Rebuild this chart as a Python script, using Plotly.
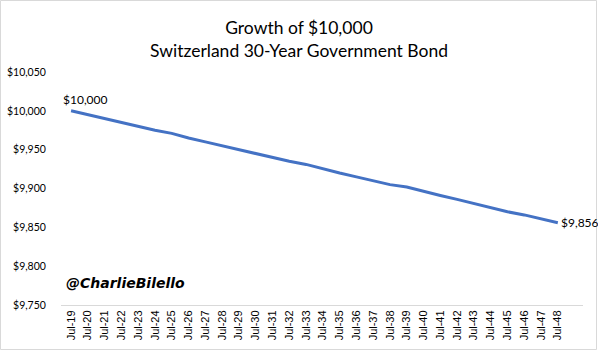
import plotly.graph_objects as go

years = list(range(19, 49))
tick_labels = [f"Jul-{y}" for y in years]
values = [10000, 9995, 9990, 9985, 9980, 9975, 9971, 9965, 9960, 9955,
          9950, 9945, 9940, 9935, 9931, 9925, 9920, 9915, 9910, 9905,
          9902, 9896, 9891, 9886, 9881, 9876, 9870, 9866, 9861, 9856]
x_idx = list(range(len(values)))

W, H = 598, 351
L, R, T, B = 61, 15, 72, 46
pw, ph = W - L - R, H - T - B

fig = go.Figure()
fig.add_trace(go.Scatter(x=x_idx, y=values, mode="lines",
                         line=dict(color="#4472C4", width=3), hoverinfo="skip"))

fig.add_annotation(x=x_idx[0], y=values[0], text="$" + f"{values[0]:,}",
                   showarrow=False, xanchor="left", yanchor="bottom", xshift=-10, yshift=2,
                   font=dict(family="Lato", size=12, color="#000000"))
fig.add_annotation(x=x_idx[-1], y=values[-1], text="$" + f"{values[-1]:,}",
                   showarrow=False, xanchor="left", yanchor="middle", xshift=1,
                   font=dict(family="Lato", size=12, color="#000000"))
fig.add_annotation(x=(64 - L) / pw, y=(H - B - 283) / ph, xref="paper", yref="paper",
                   text="<b><i>@CharlieBilello</i></b>", showarrow=False,
                   xanchor="left", yanchor="middle",
                   font=dict(family="DejaVu Sans", size=14, color="#000000"))

fig.add_shape(type="rect", xref="paper", yref="paper",
              x0=(0.5 - L) / pw, x1=(596.5 - L) / pw,
              y0=(H - B - 349.5) / ph, y1=(H - B - 0.5) / ph,
              line=dict(color="#D9D9D9", width=1), fillcolor="rgba(0,0,0,0)", layer="below")

fig.update_layout(
    width=W, height=H,
    margin=dict(l=L, r=R, t=T, b=B, autoexpand=False),
    paper_bgcolor="white", plot_bgcolor="white",
    showlegend=False,
    title=dict(text="Growth of $10,000<br>Switzerland 30-Year Government Bond",
               x=0.5, xref="container", xanchor="center", y=1 - 34 / H, yanchor="middle",
               font=dict(family="Lato", size=17.5, color="#000000")),
    xaxis=dict(tickmode="array", tickvals=x_idx, ticktext=tick_labels, automargin=False,
               tickangle=-90, range=[-0.6, 30.5], showgrid=False, zeroline=False,
               showline=True, linecolor="#D9D9D9", linewidth=1, ticks="",
               tickfont=dict(family="Liberation Sans", size=11, color="#000000")),
    yaxis=dict(range=[9750, 10050], tickvals=[9750, 9800, 9850, 9900, 9950, 10000, 10050],
               automargin=False,
               tickformat="$,.0f", showgrid=False, zeroline=False, showline=False,
               ticks="outside", ticklen=12, tickcolor="rgba(0,0,0,0)",
               tickfont=dict(family="Lato", size=10.5, color="#000000")),
)

fig.write_html("out.html")
